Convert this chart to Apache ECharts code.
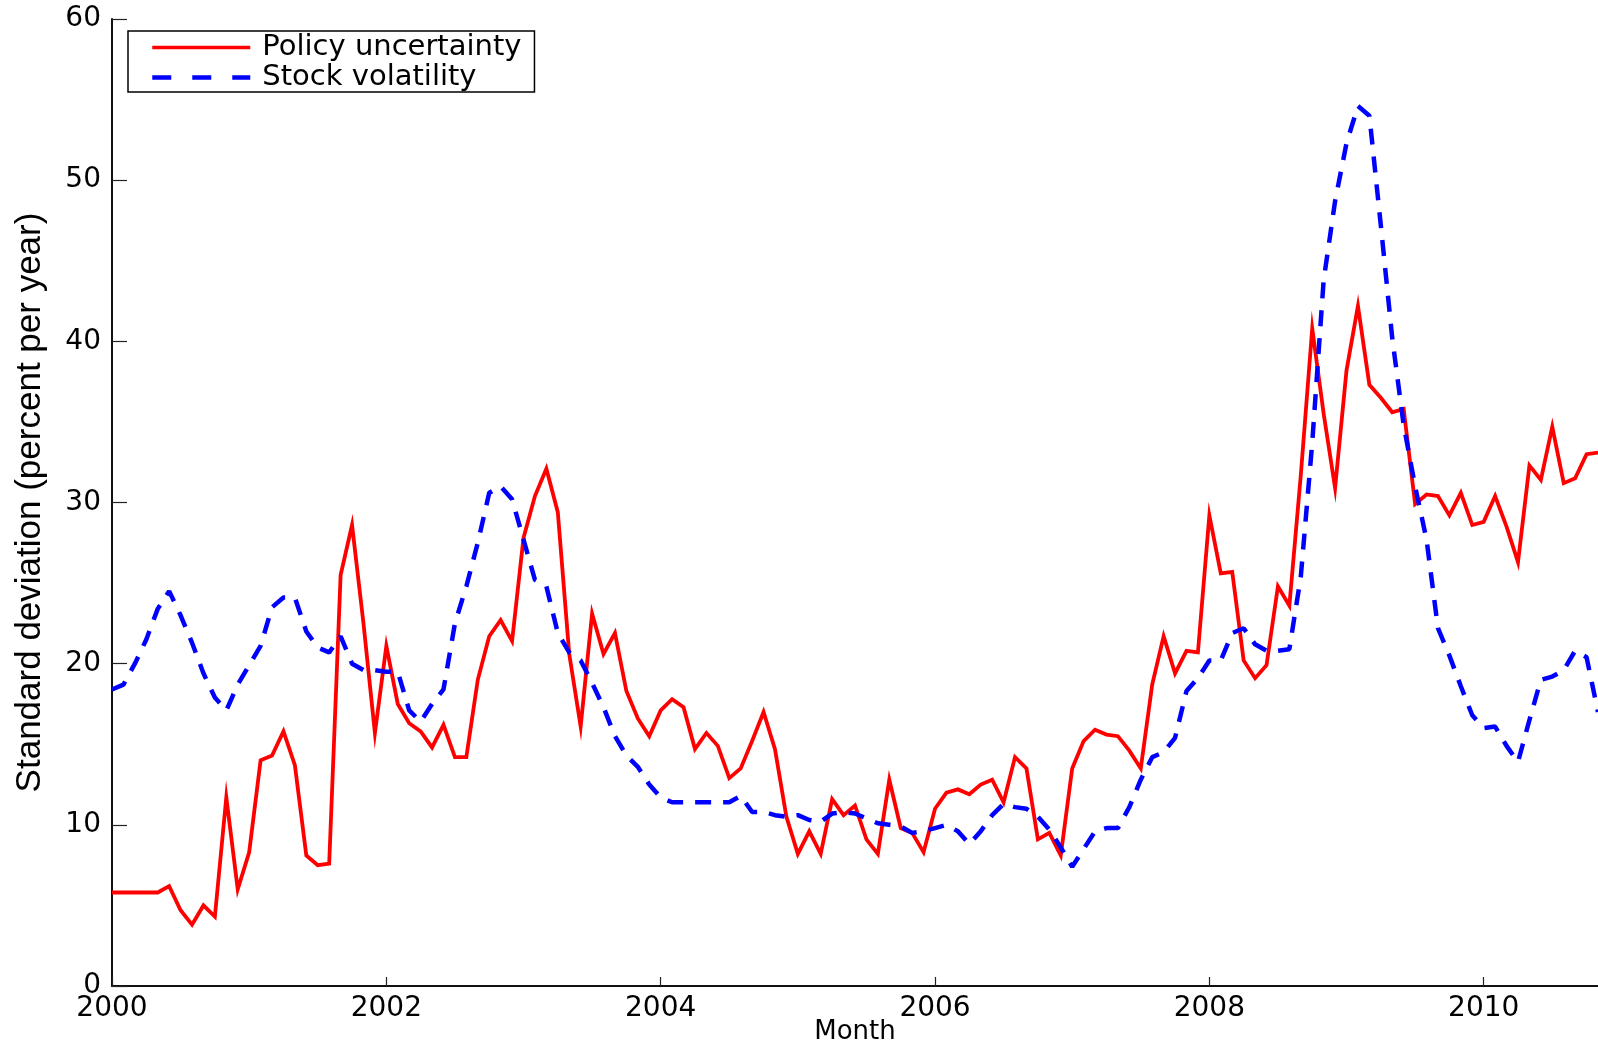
<!DOCTYPE html>
<html>
<head>
<meta charset="utf-8">
<script src="https://cdn.jsdelivr.net/npm/echarts@6/dist/echarts.min.js"></script>
<style>
html,body{margin:0;padding:0;background:#fff;}
#chart{width:1598px;height:1046px;}
</style>
</head>
<body>
<div id="chart"></div>
<script>
// Monthly data, Jan 2000 onward
const startYear = 2000;
const policyUncertainty = [
  5.8, 5.8, 5.8, 5.8, 5.8, 6.2, 4.7, 3.8, 5.0, 4.3,
  11.7, 6.0, 8.3, 14.0, 14.3, 15.8, 13.7, 8.1, 7.5, 7.6,
  25.5, 28.6, 22.5, 15.7, 21.1, 17.5, 16.3, 15.8, 14.8, 16.2,
  14.2, 14.2, 19.0, 21.7, 22.7, 21.4, 27.8, 30.4, 32.1, 29.4,
  20.6, 16.1, 23.1, 20.6, 21.9, 18.3, 16.6, 15.5, 17.1, 17.8,
  17.3, 14.7, 15.7, 14.9, 12.9, 13.5, 15.2, 17.0, 14.7, 10.5,
  8.2, 9.6, 8.2, 11.6, 10.6, 11.2, 9.1, 8.2, 12.8, 9.8,
  9.5, 8.3, 11.0, 12.0, 12.2, 11.9, 12.5, 12.8, 11.4, 14.2,
  13.5, 9.1, 9.5, 8.1, 13.5, 15.2, 15.9, 15.6, 15.5, 14.6,
  13.5, 18.7, 21.7, 19.4, 20.8, 20.7, 29.2, 25.6, 25.7, 20.2,
  19.1, 19.9, 24.8, 23.6, 31.7, 40.8, 35.5, 30.9, 38.2, 42.2,
  37.3, 36.5, 35.6, 35.8, 29.9, 30.5, 30.4, 29.2, 30.6, 28.6,
  28.8, 30.4, 28.5, 26.3, 32.3, 31.4, 34.7, 31.2, 31.5, 33.0, 33.1
];
const stockVolatility = [
  18.4, 18.7, 20.0, 21.5, 23.4, 24.5, 23.0, 21.3, 19.4, 17.9,
  17.1, 18.7, 19.9, 21.1, 23.5, 24.1, 24.1, 22.0, 21.0, 20.7,
  21.7, 20.0, 19.6, 19.6, 19.5, 19.5, 17.1, 16.4, 17.5, 18.4,
  22.5, 24.8, 27.5, 30.6, 31.0, 30.2, 27.7, 25.2, 24.8, 21.9,
  20.7, 20.2, 18.8, 17.3, 15.5, 14.3, 13.6, 12.5, 11.7, 11.4,
  11.4, 11.4, 11.4, 11.4, 11.4, 11.8, 10.8, 10.8, 10.6, 10.5,
  10.6, 10.3, 10.2, 10.7, 10.8, 10.7, 10.4, 10.1, 10.0, 9.9,
  9.5, 9.6, 9.8, 10.0, 9.6, 8.8, 9.6, 10.6, 11.3, 11.1,
  11.0, 10.5, 9.7, 8.6, 7.4, 8.5, 9.6, 9.8, 9.8, 11.1,
  12.8, 14.2, 14.5, 15.4, 18.3, 19.1, 20.2, 20.2, 21.9, 22.2,
  21.2, 20.8, 20.8, 20.9, 25.4, 33.7, 43.8, 48.7, 52.3, 54.6,
  54.0, 47.2, 40.2, 34.8, 31.0, 27.7, 22.2, 20.5, 18.6, 16.8,
  16.0, 16.1, 14.9, 13.9, 16.5, 19.0, 19.2, 19.6, 20.8, 20.4, 17.0
];
const xTickLabels = [2000, 2002, 2004, 2006, 2008, 2010];
const yTickLabels = [0, 10, 20, 30, 40, 50, 60];
const seriesNames = ['Policy uncertainty', 'Stock volatility'];

const toPairs = arr => arr.map((v, i) => [startYear + i / 12, v]);
const xMax = startYear + (policyUncertainty.length - 1) / 12;

const chart = echarts.init(document.getElementById('chart'), null, {renderer: 'canvas'});
const tickFont = {fontFamily: 'DejaVu Sans', fontSize: 28, color: '#000'};

chart.setOption({
  animation: false,
  backgroundColor: '#fff',
  grid: {left: 112, right: 0, top: 19, bottom: 60, containLabel: false, outerBoundsMode: 'none'},
  legend: {
    orient: 'vertical',
    left: 128,
    top: 31,
    padding: [2, 13, 0, 22],
    itemGap: 1,
    itemWidth: 98,
    itemHeight: 14,
    borderColor: '#000',
    borderWidth: 1.5,
    backgroundColor: '#fff',
    itemStyle: {opacity: 0, borderWidth: 0},
    textStyle: {fontFamily: 'DejaVu Sans', fontSize: 29, color: '#000', lineHeight: 27, padding: [0, 0, 0, 7]},
    data: [
      {name: seriesNames[0], lineStyle: {width: 3.5}},
      {name: seriesNames[1], lineStyle: {type: [19, 21], width: 4.5}}
    ]
  },
  xAxis: {
    type: 'value',
    min: startYear,
    max: xMax,
    interval: 2,
    name: 'Month',
    nameLocation: 'middle',
    nameGap: 33,
    nameMoveOverlap: false,
    nameTextStyle: {fontFamily: 'DejaVu Sans', fontSize: 26, color: '#000'},
    axisLine: {show: true, onZero: false, lineStyle: {color: '#111', width: 2}},
    axisTick: {show: true, inside: true, length: 9, customValues: xTickLabels, lineStyle: {color: '#222', width: 1.2}},
    axisLabel: Object.assign({margin: 9, customValues: xTickLabels, formatter: v => String(v)}, tickFont),
    splitLine: {show: false}
  },
  yAxis: {
    type: 'value',
    min: 0,
    max: 60,
    interval: 10,
    name: 'Standard deviation (percent per year)',
    nameLocation: 'middle',
    nameGap: 64,
    nameRotate: 90,
    nameMoveOverlap: false,
    nameTextStyle: {fontFamily: 'Liberation Sans', fontSize: 35, color: '#000'},
    axisLine: {show: true, lineStyle: {color: '#111', width: 2}},
    axisTick: {show: true, inside: true, length: 15, customValues: yTickLabels, lineStyle: {color: '#222', width: 1.2}},
    axisLabel: Object.assign({margin: 11, customValues: yTickLabels}, tickFont),
    splitLine: {show: false}
  },
  series: [
    {
      name: seriesNames[0],
      type: 'line',
      data: toPairs(policyUncertainty),
      showSymbol: false,
      symbol: 'none',
      lineStyle: {color: '#ff0000', width: 3.8, join: 'miter'},
      itemStyle: {color: '#ff0000'},
      clip: true
    },
    {
      name: seriesNames[1],
      type: 'line',
      data: toPairs(stockVolatility),
      showSymbol: false,
      symbol: 'none',
      lineStyle: {color: '#0000ff', width: 4.5, type: [16, 12], cap: 'butt'},
      itemStyle: {color: '#0000ff'},
      clip: true
    }
  ]
});
</script>
</body>
</html>
